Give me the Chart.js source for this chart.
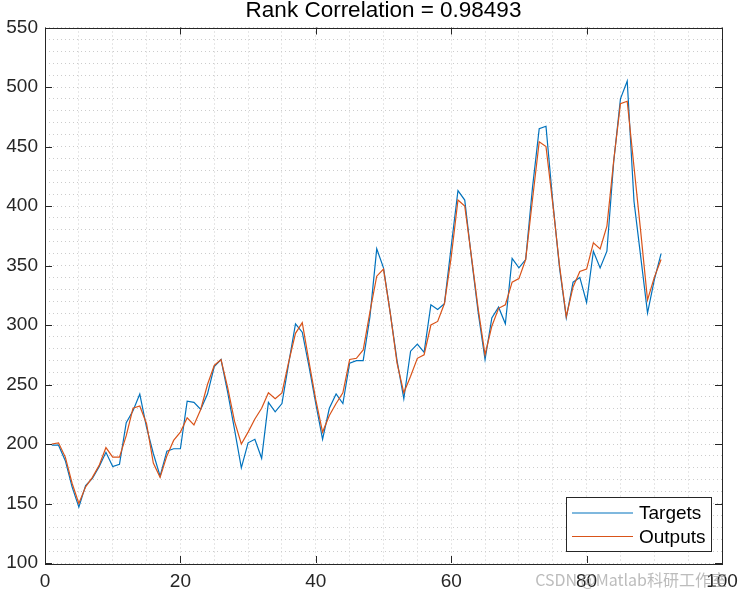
<!DOCTYPE html>
<html>
<head>
<meta charset="utf-8">
<script src="https://cdn.jsdelivr.net/npm/chart.js@4/dist/chart.umd.min.js"></script>
<style>
  html, body { margin: 0; padding: 0; background: #fff; }
  #wrap { width: 742px; height: 595px; position: relative; }
</style>
</head>
<body>
<div id="wrap"><canvas id="chart" width="742" height="595"></canvas></div>
<script>
// Sample index (x axis)
const sampleIndex = [];
for (let i = 1; i <= 91; i++) sampleIndex.push(i);

// Targets
const targets = [
    199, 199, 186, 164, 147, 165, 171, 181, 193, 181,
    183, 218, 228, 242, 214, 192, 173, 194, 196, 196,
    236, 235, 229, 242, 265, 271, 243, 212, 180, 201,
    204, 188, 235, 227, 234, 268, 301, 294, 265, 234,
    204, 230, 242, 234, 268, 270, 270, 307, 364, 348,
    310, 270, 238, 278, 284, 277, 317, 313, 318, 366,
    413, 405, 356, 310, 271, 306, 315, 301, 356, 348,
    355, 415, 465, 467, 404, 348, 306, 336, 340, 319,
    362, 348, 362, 437, 490, 505, 404, 357, 310, 338,
    360
];

// Network outputs
const outputs = [
    200, 201, 189, 167, 150, 164, 172, 182, 197, 189,
    189, 207, 230, 232, 217, 184, 172, 190, 203, 210,
    222, 216, 229, 250, 266, 271, 247, 219, 200, 210,
    221, 230, 243, 238, 243, 269, 293, 302, 269, 237,
    210, 224, 234, 243, 271, 272, 279, 311, 341, 347,
    310, 268, 243, 257, 272, 275, 300, 303, 318, 357,
    405, 400, 357, 313, 275, 299, 314, 317, 336, 339,
    355, 405, 454, 450, 402, 350, 307, 332, 345, 347,
    369, 364, 383, 438, 486, 488, 433, 378, 321, 340,
    355
];

const seriesNames = ['Targets', 'Outputs'];
const seriesColors = ['#0072BD', '#D95319'];
const titleText = 'Rank Correlation = 0.98493';
const xTickLabels = [0, 20, 40, 60, 80, 100];
const yTickLabels = [100, 150, 200, 250, 300, 350, 400, 450, 500, 550];

const axisColor = '#262626';
const fontFamily = '"Liberation Sans", Arial, Helvetica, sans-serif';

// Box, major ticks, legend and watermark (MATLAB look)
const matlabAxes = {
    id: 'matlabAxes',
    afterDraw(chart) {
        const ctx = chart.ctx;
        const a = chart.chartArea;
        const xs = chart.scales.x;
        const ys = chart.scales.y;
        ctx.save();
        ctx.strokeStyle = axisColor;
        ctx.lineWidth = 1;
        ctx.setLineDash([]);
        ctx.strokeRect(Math.round(a.left) + 0.5, Math.round(a.top) + 0.5,
            Math.round(a.right - a.left), Math.round(a.bottom - a.top));

        const tl = 7;
        ctx.beginPath();
        xTickLabels.forEach(v => {
            const px = Math.round(xs.getPixelForValue(v)) + 0.5;
            ctx.moveTo(px, a.bottom); ctx.lineTo(px, a.bottom - tl);
            ctx.moveTo(px, a.top); ctx.lineTo(px, a.top + tl);
        });
        yTickLabels.forEach(v => {
            const py = Math.round(ys.getPixelForValue(v)) + 0.5;
            ctx.moveTo(a.left, py); ctx.lineTo(a.left + tl, py);
            ctx.moveTo(a.right, py); ctx.lineTo(a.right - tl, py);
        });
        ctx.stroke();

        // legend
        const lx = 566, ly = 497, lw = 145, lh = 54;
        ctx.fillStyle = '#fff';
        ctx.fillRect(lx, ly, lw, lh);
        ctx.strokeStyle = axisColor;
        ctx.strokeRect(lx + 0.5, ly + 0.5, lw, lh);
        ctx.font = '19px ' + fontFamily;
        ctx.textBaseline = 'middle';
        ctx.textAlign = 'left';
        chart.data.datasets.forEach((ds, i) => {
            const yy = ly + 16 + i * 23.5;
            ctx.strokeStyle = ds.borderColor;
            ctx.lineWidth = 1.2;
            ctx.beginPath();
            ctx.moveTo(lx + 6, yy); ctx.lineTo(lx + 67, yy);
            ctx.stroke();
            ctx.fillStyle = '#000';
            ctx.fillText(ds.label, lx + 73, yy + 1);
        });

        // watermark
        ctx.font = '16px "Noto Sans CJK SC", "Noto Sans", sans-serif';
        ctx.fillStyle = 'rgba(160,160,160,0.7)';
        ctx.textAlign = 'right';
        ctx.fillText('CSDN @Matlab科研工作室', 727, 580);
        ctx.restore();
    }
};

const ctx = document.getElementById('chart').getContext('2d');
const chart = new Chart(ctx, {
    type: 'line',
    data: {
        labels: sampleIndex,
        datasets: [
            {
                label: seriesNames[0],
                data: sampleIndex.map((x, i) => ({ x: x, y: targets[i] })),
                borderColor: seriesColors[0],
                borderWidth: 1.2,
                pointRadius: 0,
                fill: false,
                tension: 0,
                order: 1
            },
            {
                label: seriesNames[1],
                data: sampleIndex.map((x, i) => ({ x: x, y: outputs[i] })),
                borderColor: seriesColors[1],
                borderWidth: 1.2,
                pointRadius: 0,
                fill: false,
                tension: 0,
                order: 0
            }
        ]
    },
    options: {
        responsive: false,
        animation: false,
        events: [],
        layout: { padding: { left: 0, right: 20, top: 0, bottom: 0 } },
        plugins: {
            legend: { display: false },
            tooltip: { enabled: false },
            title: {
                display: true,
                text: titleText,
                fullSize: false,
                color: '#000',
                font: { family: fontFamily, size: 22.5, weight: 'normal', lineHeight: 1 },
                padding: { top: 0, bottom: 5 }
            }
        },
        scales: {
            x: {
                type: 'linear',
                min: 0,
                max: 100,
                afterFit: s => { s.height = 32; s.paddingLeft = 0; s.paddingRight = 0; },
                ticks: {
                    stepSize: 5,
                    autoSkip: false,
                    maxRotation: 0,
                    padding: 7,
                    color: axisColor,
                    font: { family: fontFamily, size: 19 },
                    callback: v => (v % 20 === 0 ? v : '')
                },
                grid: { color: '#cccccc', lineWidth: 1, drawTicks: false },
                border: { display: false, dash: [1, 3] }
            },
            y: {
                min: 100,
                max: 550,
                afterFit: s => { s.width = 45; s.paddingTop = 0; s.paddingBottom = 0; },
                ticks: {
                    stepSize: 10,
                    autoSkip: false,
                    padding: 7,
                    color: axisColor,
                    font: { family: fontFamily, size: 19 },
                    callback: v => (v % 50 === 0 ? v : '')
                },
                grid: { color: '#cccccc', lineWidth: 1, drawTicks: false },
                border: { display: false, dash: [1, 3] }
            }
        }
    },
    plugins: [matlabAxes]
});
</script>
</body>
</html>
